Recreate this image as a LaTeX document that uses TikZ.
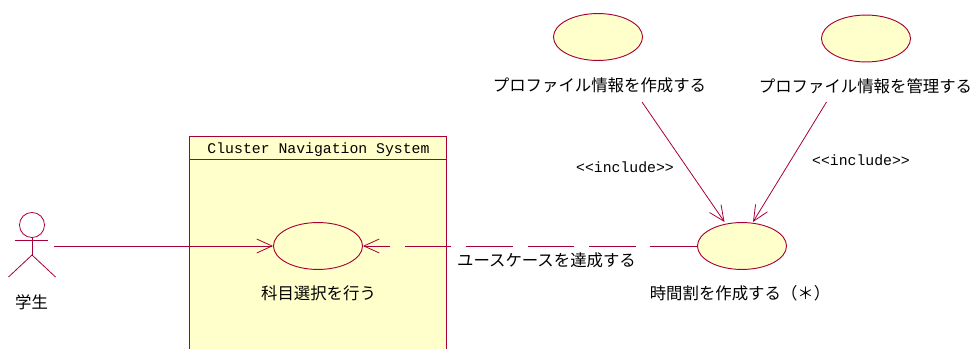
\documentclass[tikz,border=0pt]{standalone}
\usepackage{fontspec}
\usetikzlibrary{arrows.meta,shapes.geometric}
\setmainfont{Noto Sans CJK JP}
\newfontfamily\monofam{Liberation Mono}
\definecolor{umlline}{HTML}{A80036}
\definecolor{umlfill}{HTML}{FFFFCC}
\tikzset{
  conn/.style={draw=umlline,line width=0.6pt,-{Straight Barb[length=11.5pt,width=10.5pt,line width=0.6pt]}},
  dashconn/.style={conn,dash pattern=on 34.9pt off 11.2pt},
  usecase/.style={ellipse,draw=umlline,fill=umlfill,line width=0.7pt,minimum width=66.8pt,minimum height=35.2pt,inner sep=0pt},
  jplabel/.style={font=\fontsize{12.3pt}{14pt}\selectfont,inner sep=0pt,text=black},
  monolabel/.style={font=\monofam\fontsize{11.1pt}{13pt}\selectfont,inner sep=0pt,text=black},
  shapeline/.style={draw=umlline,line width=0.6pt}
}
\begin{document}
\begin{tikzpicture}[x=0.75pt,y=-0.75pt]
\useasboundingbox (0,0) rectangle (972,349);
% system box
\fill[umlfill] (189.5,136) rectangle (446,349);
\draw[shapeline,line width=0.7pt] (189.5,349) -- (189.5,136) -- (446,136) -- (446,349);
\draw[shapeline,line width=0.7pt] (189.5,159) -- (446,159);
\node[monolabel] (sys) at (318.5,149.5) {Cluster Navigation System};
% actor
\node[circle,draw=umlline,line width=0.6pt,minimum size=18.8pt,inner sep=0pt] (head) at (32,225) {};
\coordinate (armL) at (15,240);
\coordinate (armR) at (48,240);
\coordinate (hip) at (32,255);
\coordinate (footL) at (8.5,277);
\coordinate (footR) at (55.5,277);
\draw[shapeline] (head.south) -- (hip);
\draw[shapeline] (armL) -- (armR);
\draw[shapeline] (footL) -- (hip) -- (footR);
\node[jplabel] (student) at (31.5,302) {学生};
% use cases
\node[usecase] (select) at (318,246) {};
\node[jplabel] (selectL) at (318.5,293) {科目選択を行う};
\node[usecase] (time) at (742,246) {};
\node[jplabel] (timeL) at (740,293) {時間割を作成する（＊）};
\node[usecase] (prof) at (598,37) {};
\node[jplabel] (profL) at (599.5,85) {プロファイル情報を作成する};
\node[usecase] (mng) at (866,38.5) {};
\node[jplabel] (mngL) at (865.5,86) {プロファイル情報を管理する};
% connectors
\coordinate (actorEnd) at (54,246);
\coordinate (profEnd) at (642,102);
\coordinate (mngEnd) at (826.5,102);
\draw[conn] (actorEnd) -- (select.west);
\draw[dashconn] (time.west) -- (select.east);
\draw[conn] (profEnd) -- (724.5,222) coordinate (t1);
\draw[conn] (mngEnd) -- (753,222) coordinate (t2);
% labels
\node[jplabel] (reach) at (546.5,260) {ユースケースを達成する};
\node[monolabel] (inc1) at (625,167.5) {<{}<include>{}>};
\node[monolabel] (inc2) at (861,160.5) {<{}<include>{}>};
\end{tikzpicture}
\end{document}
